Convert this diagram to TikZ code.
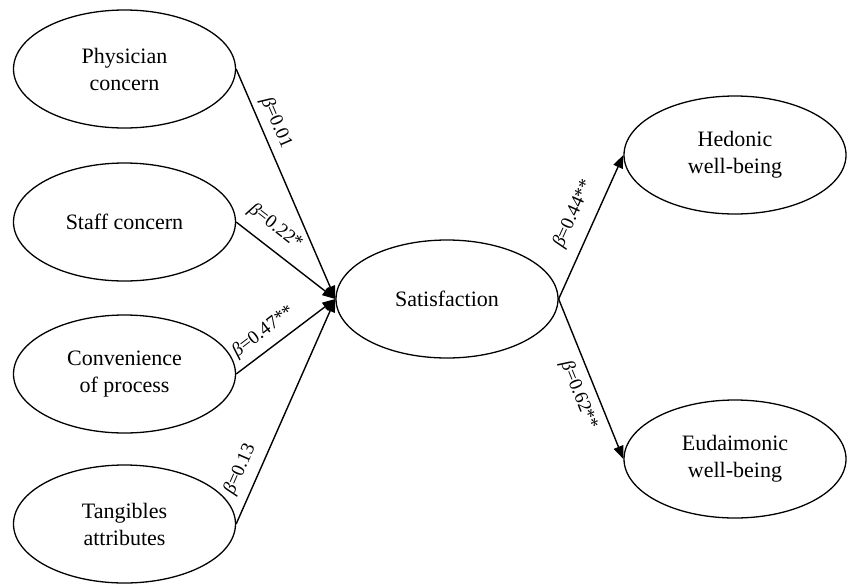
\documentclass[tikz,border=0pt]{standalone}
\usepackage{fontspec}
\setmainfont{Liberation Serif}
\usetikzlibrary{shapes.geometric,arrows.meta}
\begin{document}
\begin{tikzpicture}[x=1pt,y=-1pt,
  latent/.style={ellipse,draw,line width=1.3pt,minimum width=222pt,minimum height=118pt,
    inner sep=0pt,align=center,font=\rmfamily\fontsize{22}{27}\selectfont},
  pathline/.style={draw,line width=1.4pt,-{Triangle[length=13pt,width=10pt]}},
  coef/.style={font=\rmfamily\fontsize{19}{21}\selectfont,sloped}]
\useasboundingbox (0,0) rectangle (848,584);
\node[latent] (phy) at (124.5,69) {Physician\\concern};
\node[latent] (staff) at (124.5,222) {Staff concern};
\node[latent] (conv) at (124.5,374) {Convenience\\of process};
\node[latent] (tang) at (124.5,524) {Tangibles\\attributes};
\node[latent] (sat) at (447,299) {Satisfaction};
\node[latent] (hed) at (735,155) {Hedonic\\well-being};
\node[latent] (eud) at (735,459) {Eudaimonic\\well-being};
\draw[pathline] (phy.east) -- node[coef,pos=0.26,above,inner sep=6pt] {{\itshape β}=0.01} (sat.west);
\draw[pathline] (staff.east) -- node[coef,pos=0.27,above,inner sep=11pt] {{\itshape β}=0.22*} (sat.west);
\draw[pathline] (conv.east) -- node[coef,pos=0.38,above,inner sep=8pt] {{\itshape β}=0.47**} (sat.west);
\draw[pathline] (tang.east) -- node[coef,pos=0.21,above,inner sep=9pt] {{\itshape β}=0.13} (sat.west);
\draw[pathline] (sat.east) -- node[coef,pos=0.53,above,inner sep=12pt] {{\itshape β}=0.44**} (hed.west);
\draw[pathline] (sat.east) -- node[coef,pos=0.56,below,inner sep=8pt] {{\itshape β}=0.62**} (eud.west);
\end{tikzpicture}
\end{document}
